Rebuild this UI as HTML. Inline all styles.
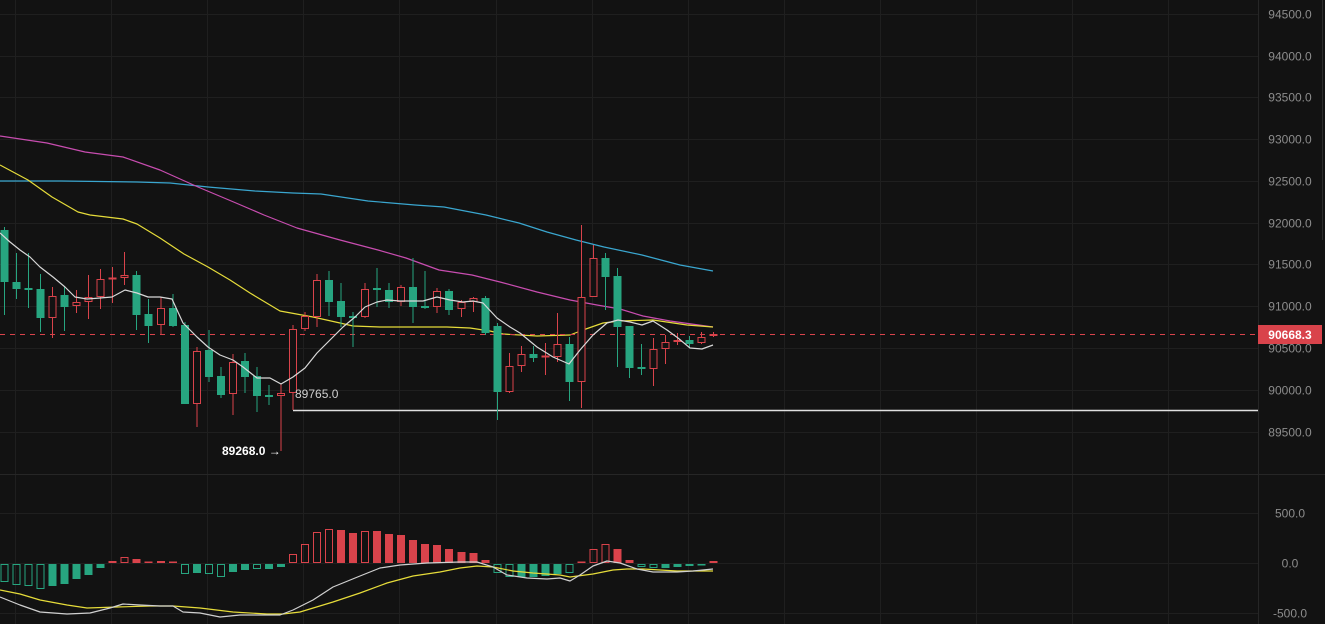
<!DOCTYPE html>
<html><head><meta charset="utf-8"><style>
html,body{margin:0;padding:0;background:#121212;}
body{width:1325px;height:624px;overflow:hidden;}
svg{display:block;font-family:"Liberation Sans",sans-serif;}
</style></head><body>
<svg width="1325" height="624" viewBox="0 0 1325 624" xmlns="http://www.w3.org/2000/svg">
<rect width="1325" height="624" fill="#121212"/>
<!-- grid -->
<g stroke="#1f1f1f" stroke-width="1">
<path d="M15.5 0V624M111.5 0V624M207.5 0V624M303.5 0V624M399.5 0V624M496.5 0V624M592.5 0V624M688.5 0V624M784.5 0V624M880.5 0V624M976.5 0V624M1072.5 0V624M1168.5 0V624"/>
<path d="M0 14.5H1258M0 56.5H1258M0 97.5H1258M0 139.5H1258M0 181.5H1258M0 223.5H1258M0 264.5H1258M0 306.5H1258M0 348.5H1258M0 390.5H1258M0 432.5H1258M0 513.5H1258M0 563.5H1258M0 613.5H1258"/>
</g>
<path d="M0 474.5H1325" stroke="#262626"/>
<path d="M1258.5 0V624" stroke="#262626"/>
<path d="M1322.5 0V240" stroke="#2c2c2c"/>

<!-- MAs -->
<g fill="none" stroke-width="1.2" stroke-linejoin="round">
<polyline stroke="#3aa6cf" points="0,181 61,181 137,182 170,183 208,187 255,191 293,193 321,194 368,201 415,205 444,207 486,215 519,223 547,232 576,240 604,247 642,255 680,265 713,271"/>
<polyline stroke="#c84db0" points="0,136 47,143 85,152 123,157 160,170 198,187 236,203 264,215 297,228 340,240 378,250 406,258 439,270 472,275 500,282 537,292 570,300 597,305 620,309 643,316 670,321 713,327"/>
<polyline stroke="#e6dc3a" points="0,165 28,180 52,197 78,212 90,215 123,219 137,224 160,238 184,254 208,267 230,280 250,293 280,311 313,317 340,323 353,326 380,327 447,327 470,328 490,331 503,334 537,336 570,335 583,330 603,323 620,321 653,320 687,325 713,327"/>
</g>

<!-- current price dashed line -->
<path d="M0 334.5H1258" stroke="#d9434b" stroke-dasharray="5 5" stroke-width="1"/>
<!-- support line -->
<path d="M293 410.5H1258" stroke="#e0e0e0" stroke-width="1.5"/>

<!-- green wicks -->
<path stroke="#27a580" stroke-width="1" fill="none" d="M4.5 227V315M16.5 253V299M28.5 253V308M40.5 274V332M64.5 287V331M136.5 271V330M148.5 299V343M173 294V327M185 322V404M209 330V382M221 367V398M245 353V393M257 367V412M269 385V405M329 271V316M341 283V327M353 312V347M377 268V307M389 283V308M413 258V323M425 271V309M449 289V315M485.5 296V335M497.5 323V420M533.5 346V362M569.5 337V401M605.5 253V310M617.5 268V367M629.5 326V378M641.5 344V375M689.5 336V348"/>
<!-- red wicks -->
<path stroke="#d9434b" stroke-width="1" fill="none" d="M52.5 287V338M76.5 290V313M88.5 275V319M100.5 269V309M112.5 267V303M124.5 252V285M161 297V335M197 347V427M233 354V415M281 384V451M293 325V410M305 312V331M317 274V327M365 283V318M401 285V306M437 288V313M461.5 300V317M473.5 297V312M509.5 353V393M521.5 346V372M545.5 343V375M557.5 313V362M581.5 225V408M593.5 245V297M653.5 338V386M665.5 335V364M677.5 333V345M701.5 332V344M713.5 332V337"/>

<!-- green bodies -->
<g fill="#27a580">
<rect x="0.5" y="230" width="8" height="52"/>
<rect x="12.5" y="282" width="8" height="7"/>
<rect x="24.5" y="288" width="8" height="2"/>
<rect x="36.5" y="289" width="8" height="29"/>
<rect x="60.5" y="295" width="8" height="12"/>
<rect x="132.5" y="275" width="8" height="40"/>
<rect x="144.5" y="314" width="8" height="12"/>
<rect x="169" y="308" width="8" height="18"/>
<rect x="181" y="325" width="8" height="79"/>
<rect x="205" y="350" width="8" height="27"/>
<rect x="217" y="376" width="8" height="19"/>
<rect x="241" y="361" width="8" height="16"/>
<rect x="253" y="376" width="8" height="20"/>
<rect x="265" y="395" width="8" height="2"/>
<rect x="325" y="280" width="8" height="22"/>
<rect x="337" y="301" width="8" height="16"/>
<rect x="349" y="316" width="8" height="2"/>
<rect x="373" y="288" width="8" height="2"/>
<rect x="385" y="290" width="8" height="12"/>
<rect x="409" y="287" width="8" height="20"/>
<rect x="421" y="306" width="8" height="2"/>
<rect x="445" y="291" width="8" height="19"/>
<rect x="481.5" y="298" width="8" height="35"/>
<rect x="493.5" y="326" width="8" height="66"/>
<rect x="529.5" y="354" width="8" height="4"/>
<rect x="565.5" y="344" width="8" height="38"/>
<rect x="601.5" y="258" width="8" height="19"/>
<rect x="613.5" y="276" width="8" height="51"/>
<rect x="625.5" y="326" width="8" height="42"/>
<rect x="637.5" y="367" width="8" height="2"/>
<rect x="685.5" y="340" width="8" height="4"/>
</g>
<!-- red hollow bodies -->
<g fill="#121212" stroke="#d9434b" stroke-width="1">
<rect x="49" y="296.5" width="7" height="21"/>
<rect x="73" y="302.5" width="7" height="3"/>
<rect x="85" y="297.5" width="7" height="4"/>
<rect x="97" y="279.5" width="7" height="17"/>
<rect x="109" y="278" width="7" height="1"/>
<rect x="121" y="275.5" width="7" height="2"/>
<rect x="157.5" y="308.5" width="7" height="16"/>
<rect x="193.5" y="351.5" width="7" height="52"/>
<rect x="229.5" y="362.5" width="7" height="31"/>
<rect x="277.5" y="393.5" width="7" height="2"/>
<rect x="289.5" y="329.5" width="7" height="63"/>
<rect x="301.5" y="316.5" width="7" height="12"/>
<rect x="313.5" y="280.5" width="7" height="36"/>
<rect x="361.5" y="289.5" width="7" height="27"/>
<rect x="397.5" y="287.5" width="7" height="14"/>
<rect x="433.5" y="291.5" width="7" height="15"/>
<rect x="458" y="302.5" width="7" height="6"/>
<rect x="470" y="298.5" width="7" height="3"/>
<rect x="506" y="366.5" width="7" height="25"/>
<rect x="518" y="354.5" width="7" height="11"/>
<rect x="542" y="356" width="7" height="1"/>
<rect x="554" y="344.5" width="7" height="12"/>
<rect x="578" y="297.5" width="7" height="84"/>
<rect x="590" y="258.5" width="7" height="38"/>
<rect x="650" y="349.5" width="7" height="19"/>
<rect x="662" y="342.5" width="7" height="6"/>
<rect x="674" y="340.5" width="7" height="1"/>
<rect x="698" y="337.5" width="7" height="5"/>
<rect x="710" y="334.5" width="7" height="1"/>
</g>

<!-- MA5 white on top -->
<polyline fill="none" stroke="#d8d8d8" stroke-width="1.2" stroke-linejoin="round" points="0,233 10,242 20,250 30,257 40,267 53,277 65,287 75,297 87,299 100,298 112,297 125,290 137,293 148,297 160,297 172,299 183,323 197,337 208,347 220,355 233,360 243,367 257,378 270,378 281,384 293,377 305,368 317,353 330,340 343,327 355,317 365,307 377,302 387,300 400,301 412,301 423,301 437,297 450,300 463,302 473,301 483,303 497,318 510,327 520,333 537,347 553,357 569,364 580,350 593,335 607,323 618,320 630,322 642,325 653,321 667,330 678,338 690,348 702,349 713,345"/>

<!-- labels -->
<text x="295" y="398" font-size="12" fill="#cfcfcf">89765.0</text>
<text x="222" y="455" font-size="12" fill="#ffffff" font-weight="bold">89268.0 →</text>

<!-- MACD histogram -->
<g fill="#27a580">
<rect x="48.5" y="564" width="8" height="22"/>
<rect x="60.5" y="564" width="8" height="20"/>
<rect x="72.5" y="564" width="8" height="15"/>
<rect x="84.5" y="564" width="8" height="11"/>
<rect x="96.5" y="564" width="8" height="4"/>
<rect x="193" y="564" width="8" height="9"/>
<rect x="229" y="564" width="8" height="8"/>
<rect x="241" y="564" width="8" height="6"/>
<rect x="265" y="564" width="8" height="5"/>
<rect x="277" y="564" width="8" height="3"/>
<rect x="517.5" y="564" width="8" height="13"/>
<rect x="529.5" y="564" width="8" height="13"/>
<rect x="541.5" y="564" width="8" height="12"/>
<rect x="553.5" y="564" width="8" height="10"/>
<rect x="661.5" y="564" width="8" height="4"/>
<rect x="673.5" y="564" width="8" height="3"/>
<rect x="685.5" y="564" width="8" height="2"/>
<rect x="697.5" y="564" width="8" height="1.5"/>
</g>
<g fill="none" stroke="#27a580" stroke-width="1">
<rect x="1" y="564.5" width="7" height="17"/>
<rect x="13" y="564.5" width="7" height="20"/>
<rect x="25" y="564.5" width="7" height="21"/>
<rect x="37" y="564.5" width="7" height="24"/>
<rect x="181.5" y="564.5" width="7" height="9"/>
<rect x="205.5" y="564.5" width="7" height="9"/>
<rect x="217.5" y="564.5" width="7" height="12"/>
<rect x="253.5" y="564.5" width="7" height="4"/>
<rect x="494" y="564.5" width="7" height="8"/>
<rect x="506" y="564.5" width="7" height="12"/>
<rect x="566" y="564.5" width="7" height="8"/>
<rect x="638" y="564.5" width="7" height="2"/>
<rect x="650" y="564.5" width="7" height="3"/>
</g>
<g fill="#d9434b">
<rect x="132.5" y="559" width="8" height="4"/>
<rect x="144.5" y="561.5" width="8" height="1.5"/>
<rect x="169" y="561.5" width="8" height="1.5"/>
<rect x="337" y="530" width="8" height="33"/>
<rect x="349" y="533" width="8" height="30"/>
<rect x="373" y="531" width="8" height="32"/>
<rect x="385" y="534" width="8" height="29"/>
<rect x="397" y="535" width="8" height="28"/>
<rect x="409" y="540" width="8" height="23"/>
<rect x="421" y="544" width="8" height="19"/>
<rect x="433" y="545" width="8" height="18"/>
<rect x="445" y="549" width="8" height="14"/>
<rect x="457.5" y="552" width="8" height="11"/>
<rect x="469.5" y="553" width="8" height="10"/>
<rect x="481.5" y="560" width="8" height="3"/>
<rect x="577.5" y="561.5" width="8" height="1.5"/>
<rect x="613.5" y="549" width="8" height="14"/>
<rect x="625.5" y="560" width="8" height="3"/>
<rect x="709.5" y="561" width="8" height="2"/>
</g>
<g fill="none" stroke="#d9434b" stroke-width="1">
<rect x="109" y="561.5" width="7" height="1"/>
<rect x="121" y="557.5" width="7" height="5"/>
<rect x="157.5" y="561.5" width="7" height="1"/>
<rect x="289.5" y="554.5" width="7" height="8"/>
<rect x="301.5" y="544.5" width="7" height="18"/>
<rect x="313.5" y="532.5" width="7" height="30"/>
<rect x="325.5" y="529.5" width="7" height="33"/>
<rect x="361.5" y="531.5" width="7" height="31"/>
<rect x="590" y="549.5" width="7" height="13"/>
<rect x="602" y="544.5" width="7" height="18"/>
</g>
<!-- MACD lines -->
<g fill="none" stroke-width="1.2" stroke-linejoin="round">
<polyline stroke="#e6dc3a" points="0,590 20,594 40,600 67,605 87,608 117,607 150,606 173,606 200,608 233,612 267,614 283,614 300,612 333,602 360,593 387,583 413,576 440,572 460,568 477,566 493,567 513,571 533,573 560,575 570,577 593,574 613,570 627,569 643,569 677,571 713,571"/>
<polyline stroke="#d0d0d0" points="0,597 20,605 40,612 67,614 90,613 110,608 123,604 140,605 160,606 173,606 183,612 200,613 220,617 240,615 260,615 280,615 293,610 313,600 333,587 360,576 380,568 400,565 427,563 460,562 477,562 493,567 507,575 527,578 547,579 560,578 570,581 580,575 593,566 607,561 620,563 637,569 653,572 677,572 693,571 713,569"/>
</g>

<!-- axis labels -->
<g font-size="12" fill="#8c8c8c" text-anchor="middle">
<text x="1290" y="18.5">94500.0</text>
<text x="1290" y="60.5">94000.0</text>
<text x="1290" y="101.5">93500.0</text>
<text x="1290" y="143.5">93000.0</text>
<text x="1290" y="185.5">92500.0</text>
<text x="1290" y="227.5">92000.0</text>
<text x="1290" y="268.5">91500.0</text>
<text x="1290" y="310.5">91000.0</text>
<text x="1290" y="352.5">90500.0</text>
<text x="1290" y="394.5">90000.0</text>
<text x="1290" y="436.5">89500.0</text>
<text x="1290" y="517.5">500.0</text>
<text x="1290" y="567.5">0.0</text>
<text x="1290" y="617.5">-500.0</text>
</g>
<rect x="1258" y="325" width="64" height="19" fill="#d9434b"/>
<text x="1290" y="339" font-size="12" font-weight="bold" fill="#ffffff" text-anchor="middle">90668.3</text>
</svg>
</body></html>
